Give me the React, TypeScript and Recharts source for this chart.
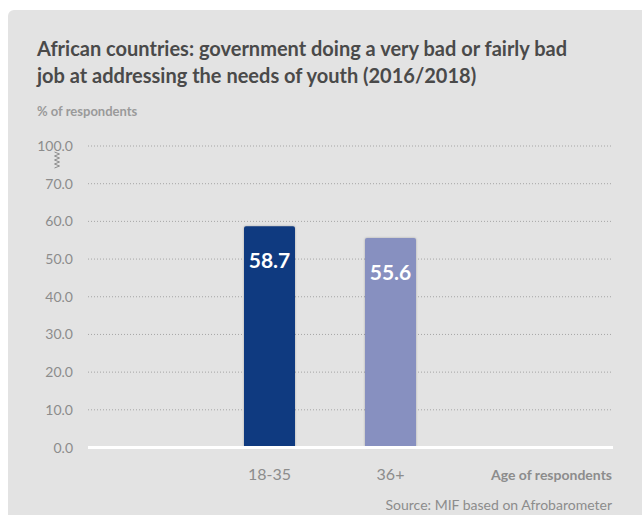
import { Bar, BarChart, CartesianGrid, Cell, LabelList, ReferenceLine, XAxis, YAxis } from "recharts";

const categories = ["18-35", "36+"];
const shares = [58.7, 55.6];
const barColors = ["#0f3a80", "#8790c0"];
// axis is broken above 70: the top tick stands for 100
const yTicks = [0, 10, 20, 30, 40, 50, 60, 70, 80];
const yTickLabels = ["0.0", "10.0", "20.0", "30.0", "40.0", "50.0", "60.0", "70.0", "100.0"];

const data = categories.map((age, i) => ({ age, share: shares[i] }));

const FONT = "Lato, 'Noto Sans', sans-serif";
const GREY = "#8c8c8c";

function YTick({ x, y, payload }: { x?: number; y?: number; payload?: { value: number; index: number } }) {
  if (x == null || y == null || !payload) return null;
  const label = yTickLabels[yTicks.indexOf(payload.value)];
  const isBreak = payload.value === 80;
  let zig = "";
  if (isBreak) {
    for (let k = 0; k <= 8; k++) {
      zig += `${k === 0 ? "M" : "L"}${x - 16 + (k % 2 === 0 ? -2.5 : 2.5)},${y + 6 + k * 2}`;
    }
  }
  return (
    <g>
      <text x={x} y={y} dy={5} textAnchor="end" fill={GREY} fontSize={14} fontFamily={FONT}>
        {label}
      </text>
      {isBreak && <path d={zig} fill="none" stroke={GREY} strokeWidth={1} />}
    </g>
  );
}

export default function App() {
  return (
    <div style={{ position: "absolute", left: 0, top: 0, width: 642, height: 515, background: "#fff", overflow: "hidden" }}>
      <div
        style={{
          position: "absolute",
          left: 8,
          top: 10,
          width: 650,
          height: 520,
          background: "#e3e3e3",
          borderRadius: 6,
        }}
      />
      <div
        style={{
          position: "absolute",
          left: 37,
          top: 35,
          fontFamily: FONT,
          fontWeight: 700,
          fontSize: 20,
          lineHeight: "27px",
          color: "#4a4a4a",
          whiteSpace: "nowrap",
        }}
      >
        African countries: government doing a very bad or fairly bad
        <br />
        job at addressing the needs of youth (2016/2018)
      </div>
      <div
        style={{
          position: "absolute",
          left: 37,
          top: 103,
          fontFamily: FONT,
          fontWeight: 700,
          fontSize: 13,
          color: "#9a9a9a",
        }}
      >
        % of respondents
      </div>
      <div style={{ position: "absolute", left: 0, top: 0 }}>
        <BarChart width={642} height={515} data={data} margin={{ top: 146, right: 29, left: 0, bottom: 27.5 }}>
          <CartesianGrid vertical={false} stroke="#a5a5a5" strokeDasharray="1 2" />
          <XAxis
            dataKey="age"
            height={40}
            padding={{ left: 121, right: 162 }}
            axisLine={false}
            tickLine={false}
            tickSize={0}
            tickMargin={21}
            tick={{ fill: GREY, fontSize: 16, fontFamily: FONT }}
          />
          <YAxis
            width={88}
            domain={[0, 80]}
            ticks={yTicks}
            interval={0}
            axisLine={false}
            tickLine={false}
            tick={(props: any) => <YTick x={73} y={props.y} payload={props.payload} />}
          />
          <ReferenceLine y={0} stroke="#ffffff" strokeWidth={3} />
          <Bar dataKey="share" barSize={51} radius={2} isAnimationActive={false}>
            {data.map((d, i) => (
              <Cell key={d.age} fill={barColors[i]} style={{ filter: "drop-shadow(0 0 1px rgba(0,0,0,0.25))" }} />
            ))}
            <LabelList
              dataKey="share"
              position="insideTop"
              offset={27}
              fill="#ffffff"
              fontSize={21}
              fontWeight={700}
              fontFamily={FONT}
              formatter={(v: any) => Number(v).toFixed(1)}
            />
          </Bar>
        </BarChart>
      </div>
      <div
        style={{
          position: "absolute",
          right: 30,
          top: 466,
          fontFamily: FONT,
          fontWeight: 700,
          fontSize: 14,
          color: GREY,
        }}
      >
        Age of respondents
      </div>
      <div
        style={{
          position: "absolute",
          right: 30,
          top: 496,
          fontFamily: FONT,
          fontSize: 14,
          color: GREY,
        }}
      >
        Source: MIF based on Afrobarometer
      </div>
    </div>
  );
}
